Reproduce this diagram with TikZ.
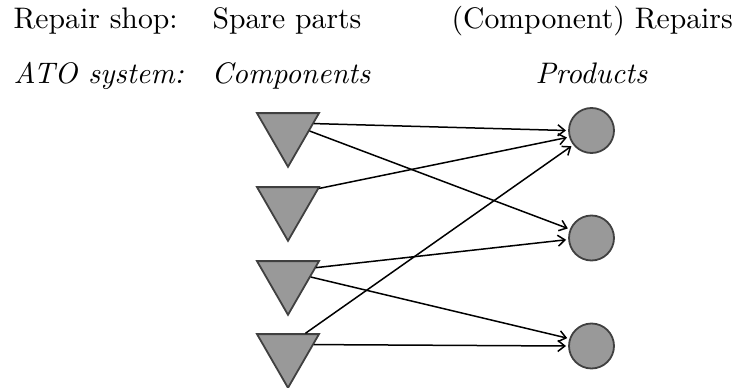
\documentclass[tikz,border=0pt]{standalone}
\usetikzlibrary{shapes.geometric,arrows.meta}
\definecolor{shapefill}{HTML}{999999}
\definecolor{shapeline}{HTML}{404040}
\tikzset{
  comp/.style={regular polygon, regular polygon sides=3, shape border rotate=180,
    minimum size=71.6pt, inner sep=0pt, outer sep=0.8pt, fill=shapefill, draw=shapeline, line width=1.8pt},
  prod/.style={circle, minimum size=45pt, inner sep=0pt, outer sep=3pt, fill=shapefill, draw=shapeline, line width=1.8pt},
  lbl/.style={anchor=base west, inner sep=0pt, scale=2.97},
  link/.style={line width=1.5pt, -{Straight Barb[length=7pt,width=11pt,line width=1.5pt]}}
}
\begin{document}
\begin{tikzpicture}[x=1pt,y=-1pt]
\useasboundingbox (0,0) rectangle (740,388);
% labels
\node[lbl] (l1) at (13,28) {Repair shop:};
\node[lbl] (l2) at (212,28) {Spare parts};
\node[lbl] (l3) at (451,28) {(Component) Repairs};
\node[lbl] (l4) at (13,83) {\itshape ATO system:};
\node[lbl] (l5) at (211,83) {\itshape Components};
\node[lbl] (l6) at (535,83) {\itshape Products};
% components
\node[comp] (t1) at (288,131) {};
\node[comp] (t2) at (288,205) {};
\node[comp] (t3) at (288,279) {};
\node[comp] (t4) at (288,352) {};
% products
\node[prod] (c1) at (591.5,130.5) {};
\node[prod] (c2) at (591.5,238) {};
\node[prod] (c3) at (591.5,346) {};
% links
\draw[link] (t1.16) -- (c1.180);
\draw[link] (t1.0) -- (c2.158);
\draw[link] (t2.28) -- (c1.196);
\draw[link] (t3.22) -- (c2.184);
\draw[link] (t3.5) -- (c3.162);
\draw[link] (t4.47) -- (c1.218);
\draw[link] (t4.16) -- (c3.180);
\end{tikzpicture}
\end{document}
